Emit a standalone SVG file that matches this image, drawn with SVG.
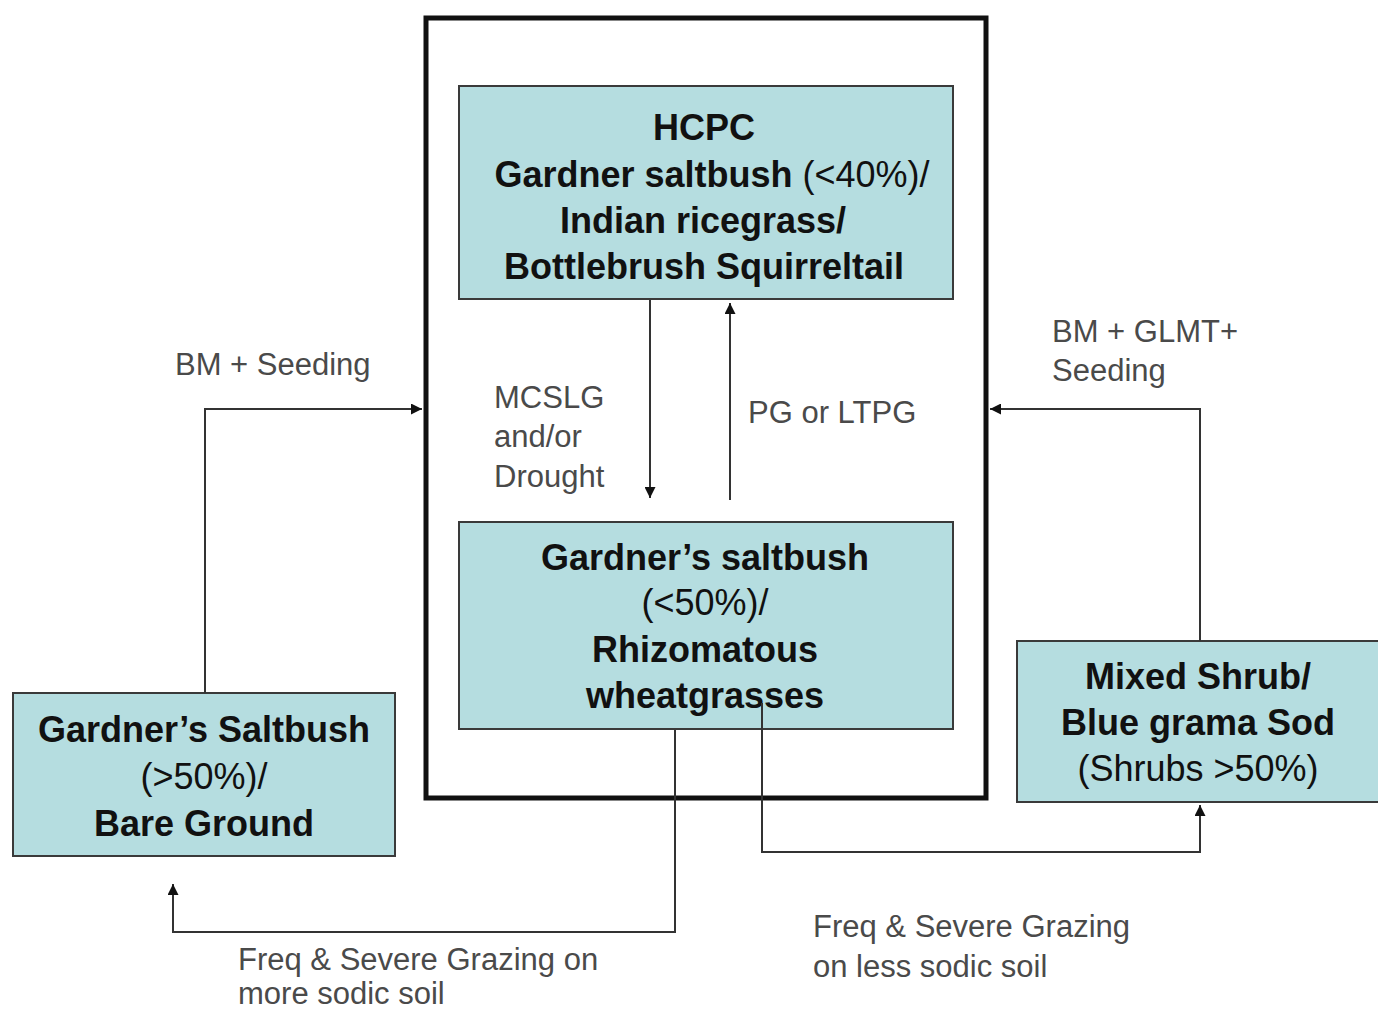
<svg xmlns="http://www.w3.org/2000/svg" width="1378" height="1012" viewBox="0 0 1378 1012">
<style>
.box{fill:#b5dde0;stroke:#3a3a3a;stroke-width:2}
.nt{font-family:"Liberation Sans",Arial,sans-serif;font-size:36px;fill:#111;text-anchor:middle;font-weight:bold}
.nr{font-weight:normal}
.lb{font-family:"Liberation Sans",Arial,sans-serif;font-size:31px;fill:#4a4a4a}
.cn{fill:none;stroke:#333;stroke-width:2}
</style>
<defs>
<marker id="ah" viewBox="0 0 10 10" refX="10" refY="5" markerWidth="13" markerHeight="11" markerUnits="userSpaceOnUse" orient="auto">
<path d="M0,0 L10,5 L0,10 z" fill="#111"/>
</marker>
</defs>
<rect width="1378" height="1012" fill="#fff"/>
<rect id="outer" x="426" y="18" width="560" height="780" fill="none" stroke="#111" stroke-width="5"/>
<g id="hcpc">
<rect class="box" x="459" y="86" width="494" height="213"/>
<text class="nt" x="704" y="140" font-size="40">HCPC</text>
<text class="nt" x="712" y="187" font-size="36">Gardner saltbush <tspan class="nr">(&lt;40%)/</tspan></text>
<text class="nt" x="703" y="233" font-size="36">Indian ricegrass/</text>
<text class="nt" x="704" y="279" font-size="36">Bottlebrush Squirreltail</text>
</g>
<g id="middle">
<rect class="box" x="459" y="522" width="494" height="207"/>
<text class="nt" x="705" y="570" font-size="35">Gardner’s saltbush</text>
<text class="nt nr" x="705" y="615" font-size="35">(&lt;50%)/</text>
<text class="nt" x="705" y="662" font-size="35">Rhizomatous</text>
<text class="nt" x="705" y="708" font-size="35">wheatgrasses</text>
</g>
<g id="left">
<rect class="box" x="13" y="693" width="382" height="163"/>
<text class="nt" x="204" y="742" font-size="35">Gardner’s Saltbush</text>
<text class="nt nr" x="204" y="789" font-size="35">(&gt;50%)/</text>
<text class="nt" x="204" y="836" font-size="35">Bare Ground</text>
</g>
<g id="right">
<rect class="box" x="1017" y="641" width="362" height="161"/>
<text class="nt" x="1198" y="689" font-size="35">Mixed Shrub/</text>
<text class="nt" x="1198" y="735" font-size="35">Blue grama Sod</text>
<text class="nt nr" x="1198" y="781" font-size="35">(Shrubs &gt;50%)</text>
</g>
<g id="connectors">
<path class="cn" d="M650,300 V498" marker-end="url(#ah)"/>
<path class="cn" d="M730,500 V303" marker-end="url(#ah)"/>
<path class="cn" d="M205,693 V409 H422" marker-end="url(#ah)"/>
<path class="cn" d="M1200,641 V409 H990" marker-end="url(#ah)"/>
<path class="cn" d="M675,730 V932 H173 V884" marker-end="url(#ah)"/>
<path class="cn" d="M762,703 V852 H1200 V805" marker-end="url(#ah)"/>
</g>
<g id="labels">
<text class="lb" x="175" y="375">BM + Seeding</text>
<text class="lb" x="494" y="408">MCSLG</text>
<text class="lb" x="494" y="447">and/or</text>
<text class="lb" x="494" y="487">Drought</text>
<text class="lb" x="748" y="423">PG or LTPG</text>
<text class="lb" x="1052" y="342">BM + GLMT+</text>
<text class="lb" x="1052" y="381">Seeding</text>
<text class="lb" x="238" y="970">Freq &amp; Severe Grazing on</text>
<text class="lb" x="238" y="1004">more sodic soil</text>
<text class="lb" x="813" y="937">Freq &amp; Severe Grazing</text>
<text class="lb" x="813" y="977">on less sodic soil</text>
</g>
</svg>
